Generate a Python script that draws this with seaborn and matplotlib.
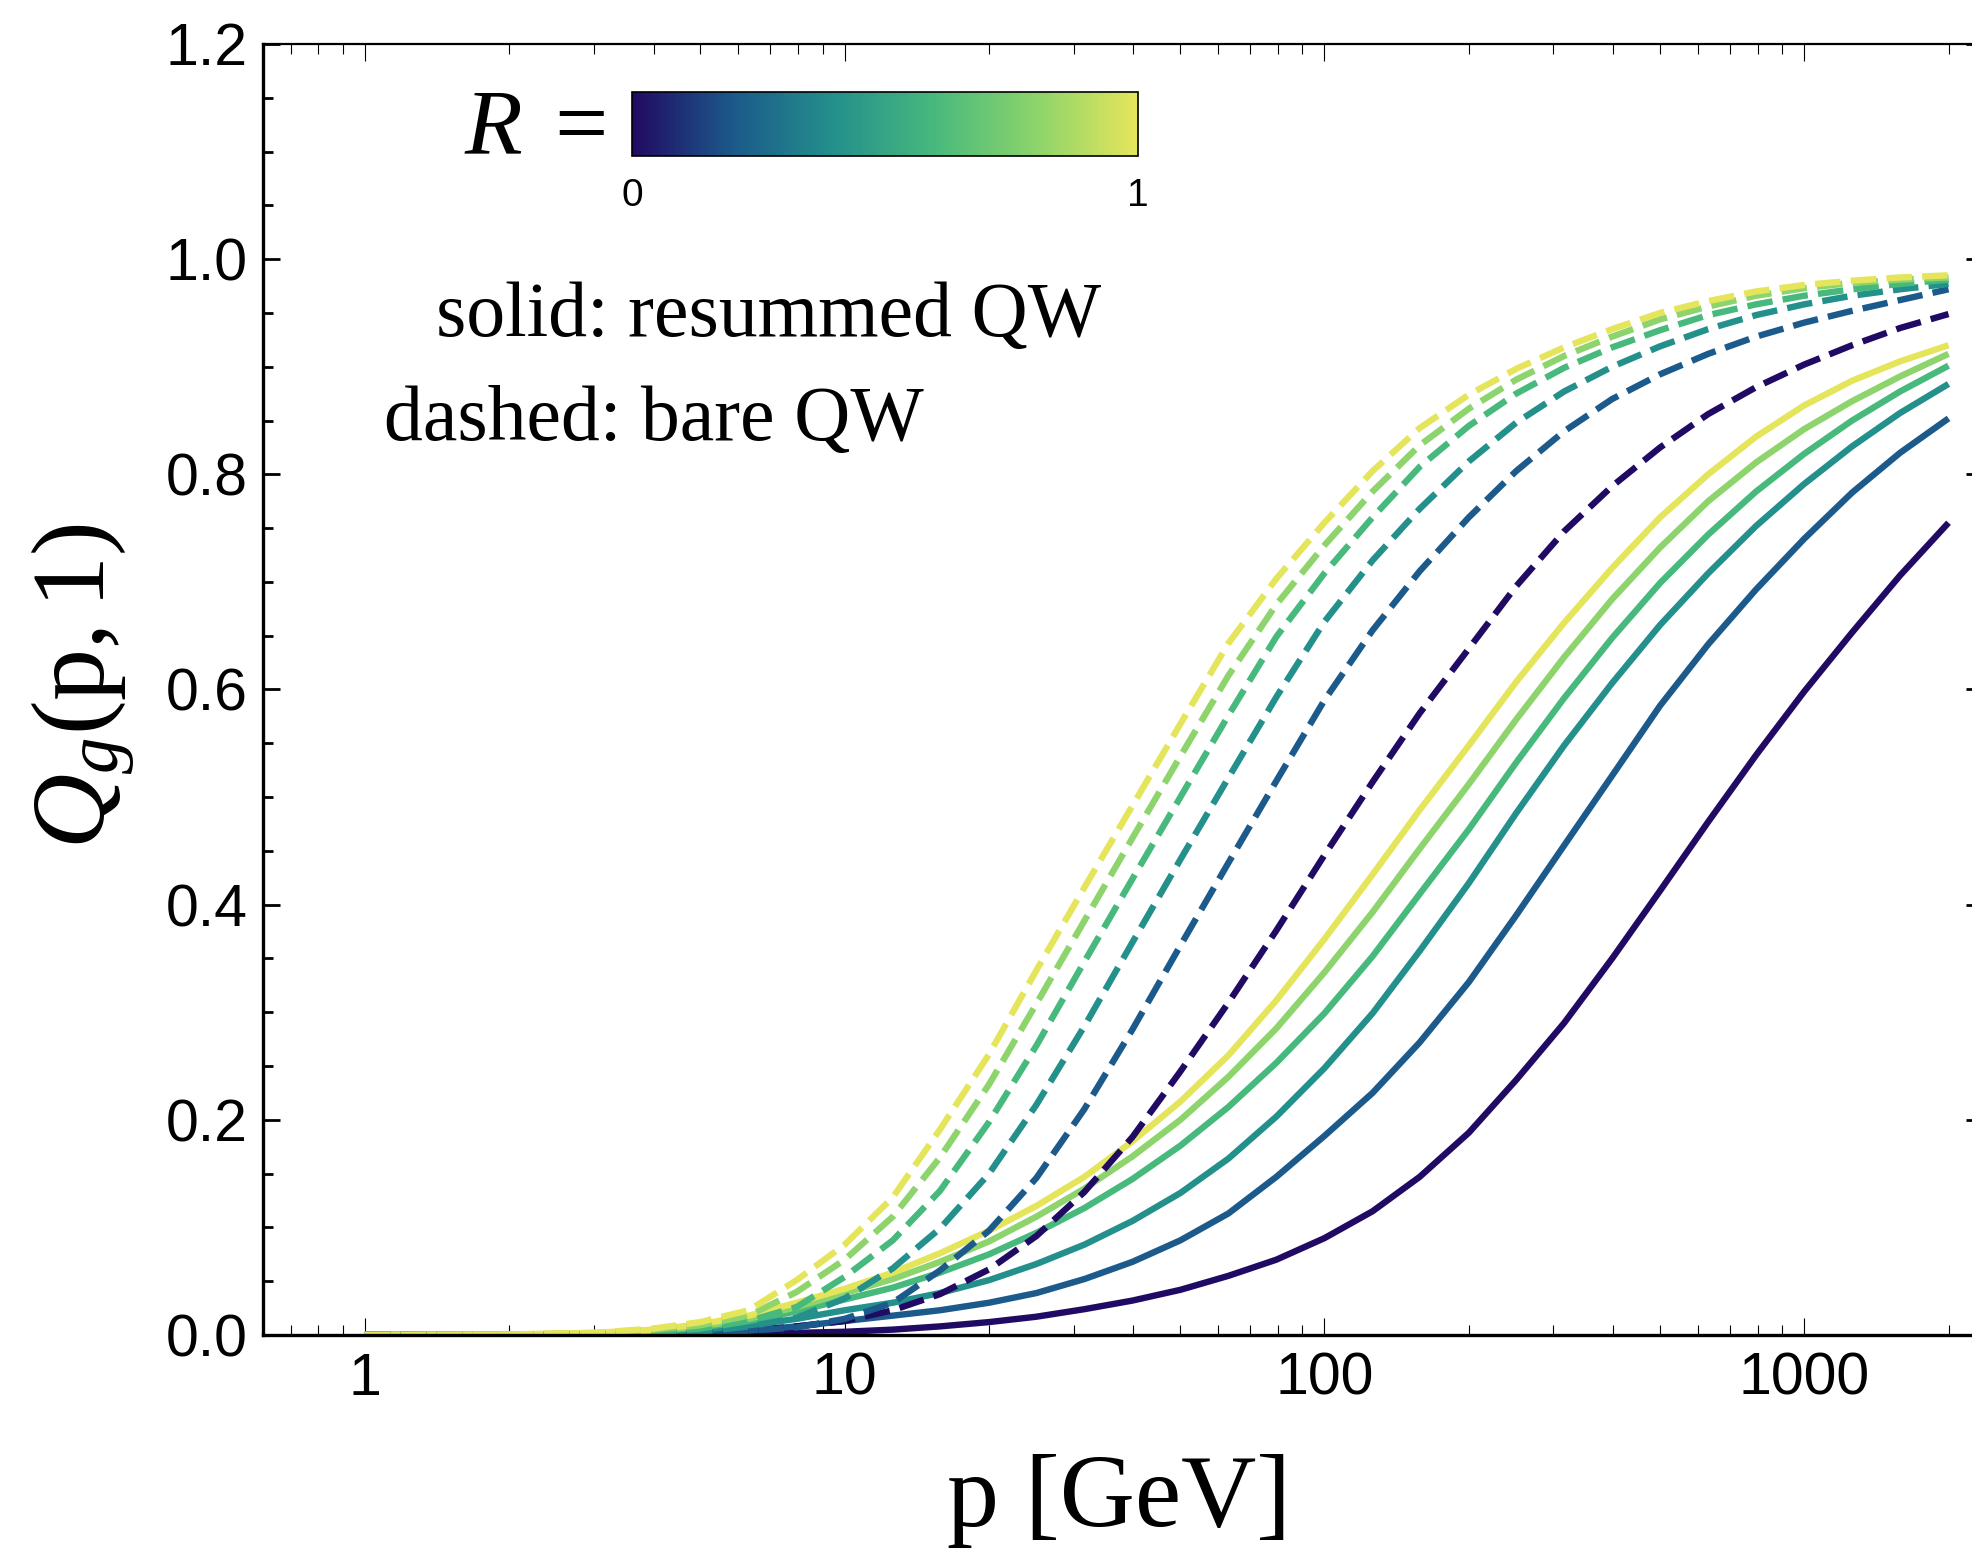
import numpy as np
import pandas as pd
import matplotlib
matplotlib.use("Agg")
import matplotlib.pyplot as plt
import seaborn as sns
from matplotlib.colors import LinearSegmentedColormap, Normalize
from matplotlib.cm import ScalarMappable
from matplotlib.ticker import FixedLocator, LogLocator, NullFormatter, MultipleLocator, FormatStrFormatter

# ---------------- data ----------------
P_GEV = [1, 2, 3, 4, 5, 6.31, 7.94, 10, 12.6, 15.8, 20, 25.1, 31.6, 39.8, 50.1, 63.1,
         79.4, 100, 126, 158, 200, 251, 316, 398, 501, 631, 794, 1000, 1259, 1585, 2000]

R_VALUES = [0.0, 0.2, 0.4, 0.6, 0.8, 1.0]

# solid: resummed QW
RESUMMED_R00 = [0, 0, 0, 0.0005, 0.001, 0.0015, 0.002, 0.003, 0.005, 0.008, 0.012, 0.017, 0.024, 0.032, 0.042, 0.055,
                0.070, 0.090, 0.115, 0.147, 0.188, 0.237, 0.290, 0.350, 0.413, 0.477, 0.539, 0.598, 0.653, 0.706, 0.755]
RESUMMED_R02 = [0, 0, 0.0005, 0.001, 0.002, 0.004, 0.008, 0.013, 0.018, 0.023, 0.030, 0.039, 0.052, 0.068, 0.088, 0.113,
                0.147, 0.185, 0.225, 0.272, 0.328, 0.390, 0.455, 0.520, 0.585, 0.642, 0.693, 0.740, 0.783, 0.820, 0.852]
RESUMMED_R04 = [0, 0.0002, 0.0008, 0.002, 0.005, 0.009, 0.015, 0.023, 0.030, 0.039, 0.051, 0.066, 0.084, 0.106, 0.132, 0.164,
                0.203, 0.248, 0.299, 0.357, 0.420, 0.485, 0.548, 0.606, 0.660, 0.708, 0.752, 0.791, 0.826, 0.857, 0.884]
RESUMMED_R06 = [0, 0.0003, 0.001, 0.003, 0.007, 0.013, 0.022, 0.033, 0.044, 0.058, 0.075, 0.095, 0.118, 0.145, 0.176, 0.212,
                0.253, 0.299, 0.352, 0.410, 0.470, 0.532, 0.592, 0.648, 0.699, 0.744, 0.784, 0.819, 0.850, 0.877, 0.901]
RESUMMED_R08 = [0, 0.0004, 0.0015, 0.004, 0.008, 0.015, 0.026, 0.039, 0.052, 0.068, 0.087, 0.110, 0.136, 0.166, 0.200, 0.240,
                0.285, 0.337, 0.393, 0.452, 0.512, 0.572, 0.630, 0.684, 0.732, 0.775, 0.811, 0.842, 0.868, 0.891, 0.912]
RESUMMED_R10 = [0, 0.0005, 0.002, 0.005, 0.010, 0.018, 0.030, 0.043, 0.058, 0.076, 0.097, 0.120, 0.147, 0.180, 0.217, 0.260,
                0.311, 0.368, 0.428, 0.488, 0.548, 0.607, 0.662, 0.713, 0.760, 0.800, 0.835, 0.864, 0.887, 0.905, 0.920]

# dashed: bare QW
BARE_R00 = [0, 0, 0.0005, 0.001, 0.002, 0.004, 0.008, 0.013, 0.023, 0.038, 0.061, 0.092, 0.133, 0.184, 0.245, 0.309,
            0.376, 0.446, 0.514, 0.578, 0.638, 0.696, 0.747, 0.789, 0.825, 0.856, 0.881, 0.902, 0.920, 0.936, 0.949]
BARE_R02 = [0, 0, 0.0005, 0.001, 0.002, 0.004, 0.007, 0.015, 0.030, 0.060, 0.097, 0.146, 0.210, 0.284, 0.362, 0.439,
            0.515, 0.590, 0.655, 0.710, 0.760, 0.803, 0.840, 0.870, 0.893, 0.912, 0.928, 0.941, 0.952, 0.962, 0.972]
BARE_R04 = [0, 0.0002, 0.0008, 0.002, 0.003, 0.008, 0.016, 0.034, 0.062, 0.099, 0.150, 0.214, 0.287, 0.365, 0.442, 0.518,
            0.593, 0.663, 0.720, 0.768, 0.812, 0.848, 0.877, 0.900, 0.919, 0.935, 0.948, 0.958, 0.966, 0.972, 0.977]
BARE_R06 = [0, 0.0003, 0.001, 0.003, 0.006, 0.013, 0.026, 0.054, 0.088, 0.134, 0.198, 0.269, 0.347, 0.424, 0.500, 0.576,
            0.649, 0.708, 0.760, 0.807, 0.845, 0.875, 0.899, 0.918, 0.934, 0.948, 0.958, 0.966, 0.972, 0.977, 0.981]
BARE_R08 = [0, 0.0004, 0.0015, 0.005, 0.009, 0.018, 0.040, 0.070, 0.110, 0.165, 0.233, 0.308, 0.385, 0.462, 0.538, 0.613,
            0.679, 0.734, 0.784, 0.827, 0.861, 0.888, 0.910, 0.928, 0.944, 0.956, 0.966, 0.973, 0.978, 0.981, 0.983]
BARE_R10 = [0, 0.0005, 0.002, 0.006, 0.012, 0.023, 0.051, 0.084, 0.128, 0.191, 0.261, 0.339, 0.416, 0.492, 0.568, 0.643,
            0.703, 0.755, 0.803, 0.843, 0.874, 0.898, 0.918, 0.935, 0.950, 0.961, 0.970, 0.976, 0.980, 0.983, 0.985]

CURVE_COLORS = ["#210a63", "#1b5a8a", "#24908c", "#48b97d", "#8cd46b", "#e5e55b"]

X_TICKS = [1, 10, 100, 1000]
X_TICK_LABELS = ["1", "10", "100", "1000"]
Y_TICKS = [0.0, 0.2, 0.4, 0.6, 0.8, 1.0, 1.2]

resummed = [RESUMMED_R00, RESUMMED_R02, RESUMMED_R04, RESUMMED_R06, RESUMMED_R08, RESUMMED_R10]
bare = [BARE_R00, BARE_R02, BARE_R04, BARE_R06, BARE_R08, BARE_R10]

rows = []
for kind, series in (("resummed", resummed), ("bare", bare)):
    for r, vals in zip(R_VALUES, series):
        for p, q in zip(P_GEV, vals):
            rows.append({"p": p, "Q": q, "R": r, "kind": kind})
df = pd.DataFrame(rows)

# ---------------- style ----------------
sns.set_style("white")
plt.rcParams["font.family"] = ["Liberation Sans", "DejaVu Sans"]
plt.rcParams["mathtext.fontset"] = "custom"
plt.rcParams["mathtext.rm"] = "Liberation Serif"
plt.rcParams["mathtext.it"] = "Liberation Serif:italic"
plt.rcParams["mathtext.bf"] = "Liberation Serif:bold"
for key in ("text.color", "axes.labelcolor", "xtick.color", "ytick.color", "axes.edgecolor"):
    plt.rcParams[key] = "black"

W, H = 1972, 1551
fig = plt.figure(figsize=(W / 100, H / 100), dpi=100)
ax_l, ax_r, ax_t, ax_b = 263, 1983, 44, 1335
ax = fig.add_axes([ax_l / W, 1 - ax_b / H, (ax_r - ax_l) / W, (ax_b - ax_t) / H])

LW = 4.6
for kind in ("resummed", "bare"):
    for r, c in zip(R_VALUES, CURVE_COLORS):
        sub = df[(df["kind"] == kind) & (df["R"] == r)]
        sns.lineplot(data=sub, x="p", y="Q", color=c, lw=LW, ax=ax,
                     estimator=None, sort=False, legend=False)
        line = ax.lines[-1]
        line.set_solid_capstyle("butt")
        line.set_solid_joinstyle("round")
        if kind == "bare":
            line.set_dashes([4.0, 1.6])
            line.set_dash_capstyle("butt")

ax.set_xscale("log")
ax.set_xlim(0.613, 2360)
ax.set_ylim(0, 1.2)

ax.xaxis.set_major_locator(FixedLocator(X_TICKS))
ax.set_xticklabels(X_TICK_LABELS)
ax.xaxis.set_minor_locator(LogLocator(base=10, subs=np.arange(2, 10)))
ax.xaxis.set_minor_formatter(NullFormatter())
ax.yaxis.set_major_locator(FixedLocator(Y_TICKS))
ax.yaxis.set_major_formatter(FormatStrFormatter("%.1f"))
ax.yaxis.set_minor_locator(MultipleLocator(0.05))

ax.tick_params(axis="x", which="major", direction="in", length=12, width=0.8,
               top=True, bottom=True, labelsize=42.5, pad=12, color="black", labelcolor="black")
ax.tick_params(axis="x", which="minor", direction="in", length=7, width=0.8,
               top=True, bottom=True, color="black")
ax.tick_params(axis="y", which="major", direction="in", length=12, width=2.0,
               left=True, right=True, labelsize=42.5, pad=11, color="black", labelcolor="black")
ax.tick_params(axis="y", which="minor", direction="in", length=7, width=2.0,
               left=True, right=True, color="black")

for side in ("left", "bottom"):
    ax.spines[side].set_linewidth(2.4)
for side in ("top", "right"):
    ax.spines[side].set_linewidth(1.6)
for s in ax.spines.values():
    s.set_color("black")

ax.set_xlabel("")
ax.set_ylabel("")

# axis labels
fig.text(1119 / W, 1 - 1526 / H, "p [GeV]", ha="center", va="baseline",
         fontsize=75, family="Liberation Serif", color="black")
fig.text(84 / W, 1 - 686 / H, r"$Q_g(\mathrm{p},1)$", rotation=90,
         ha="center", va="center", fontsize=75, color="black")

# annotations
fig.text(436 / W, 1 - 336 / H, "solid: resummed QW", ha="left", va="baseline",
         fontsize=56, family="Liberation Serif", color="black")
fig.text(384 / W, 1 - 440 / H, "dashed: bare QW", ha="left", va="baseline",
         fontsize=56, family="Liberation Serif", color="black")

# colour bar for R
cmap = LinearSegmentedColormap.from_list("rmap", CURVE_COLORS)
cax = fig.add_axes([632 / W, 1 - 156 / H, (1138 - 632) / W, (156 - 92) / H])
cb = fig.colorbar(ScalarMappable(norm=Normalize(0, 1), cmap=cmap), cax=cax,
                  orientation="horizontal", ticks=[0, 1])
cb.ax.set_xticklabels(["0", "1"])
cb.ax.tick_params(length=0, labelsize=28, pad=16, labelcolor="black")
cb.outline.set_linewidth(1.2)
cb.outline.set_edgecolor("black")
fig.text(606 / W, 1 - 154 / H, r"$R\;=$", ha="right", va="baseline", fontsize=68, color="black")

fig.savefig("out.png", dpi=100)
